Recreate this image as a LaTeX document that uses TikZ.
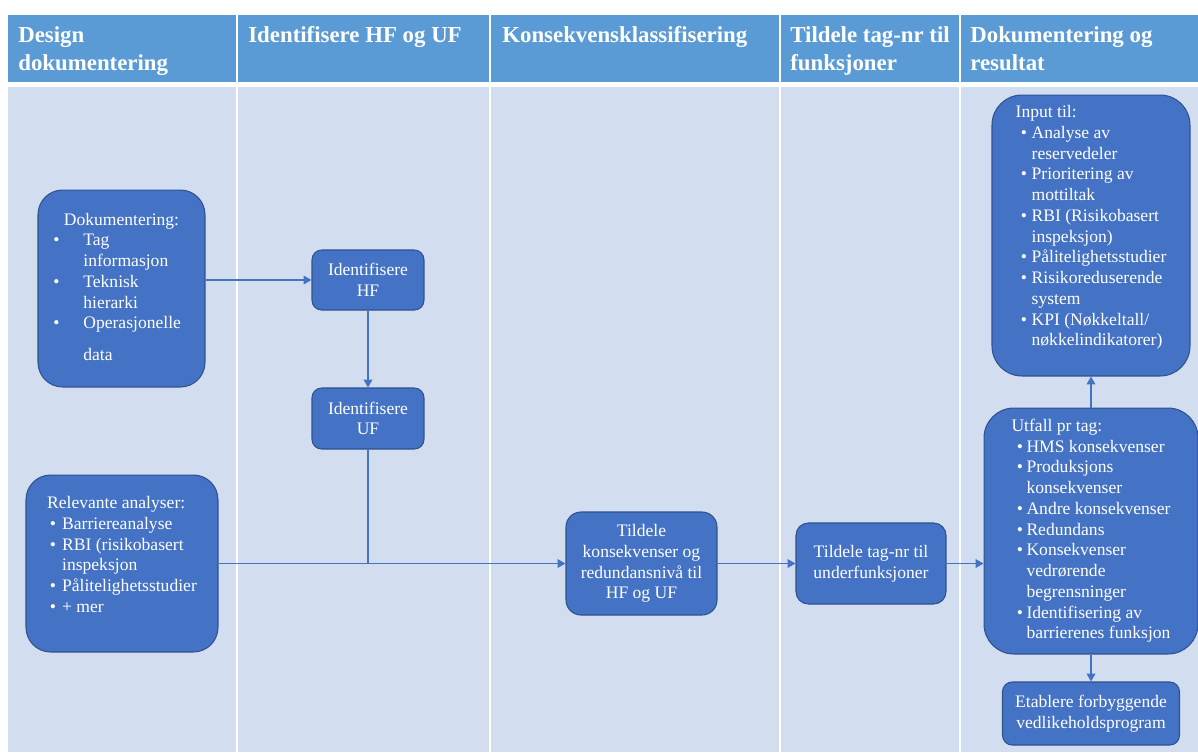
\documentclass[tikz,border=0pt]{standalone}
\usepackage{fontspec}
\setmainfont{Liberation Serif}
\usepackage{array}
\usetikzlibrary{arrows.meta, calc}

\definecolor{hdrblue}{HTML}{5B9BD5}
\definecolor{lanefill}{HTML}{D2DEEF}
\definecolor{boxblue}{HTML}{4472C4}
\definecolor{boxedge}{HTML}{2F528F}
\definecolor{linkblue}{HTML}{4472C4}

\begin{document}
\begin{tikzpicture}[
  x=0.02cm, y=-0.02cm,
  >={Triangle[length=4.5pt,width=5pt]},
  every node/.style={font=\fontsize{10}{11.8}\selectfont},
  hdrtext/.style={anchor=north west, inner sep=0pt, align=left, text=white,
                  font=\fontsize{13}{16}\selectfont\bfseries},
  flowbox/.style={draw=boxedge, fill=boxblue, text=white, line width=0.6pt,
                  rounded corners=5.5pt, align=center, inner sep=2pt},
  listbox/.style={flowbox, rounded corners=14pt},
  link/.style={draw=linkblue, line width=0.6pt}
]
\useasboundingbox (0,0) rectangle (1198,752);

% ---- Lanes ----
\foreach \xa/\xb in {8/236, 238/489, 491/779, 781/959, 961/1198} {
  \fill[hdrblue] (\xa,15) rectangle (\xb,82);
  \fill[lanefill] (\xa,87) rectangle (\xb,752);
}

% ---- Lane titles ----
\node[hdrtext] (hdesign) at (18,26) {Design\\dokumentering};
\node[hdrtext] (hident) at (248,26) {Identifisere HF og UF};
\node[hdrtext] (hkons) at (502,26) {Konsekvensklassifisering};
\node[hdrtext] (htag) at (790,26) {Tildele tag-nr til\\funksjoner};
\node[hdrtext] (hres) at (970,26) {Dokumentering og\\resultat};

% ---- Input boxes ----
\node[listbox, minimum width=3.34cm, minimum height=3.94cm] (dok) at (121.5,288.5)
  {\begin{tabular}{@{}p{0.6cm}@{}l@{}}
   \multicolumn{2}{c}{Dokumentering:}\\
   \textbullet & Tag\\
               & informasjon\\
   \textbullet & Teknisk\\
               & hierarki\\
   \textbullet & Operasjonelle\\[6pt]
               & data
   \end{tabular}};

\node[listbox, minimum width=3.84cm, minimum height=3.54cm] (relan) at (122,563.5)
  {\begin{tabular}{@{}p{0.3cm}@{}l@{}}
   \multicolumn{2}{@{}l@{}}{Relevante analyser:}\\
   \hspace{1.5pt}\textbullet & Barriereanalyse\\
   \hspace{1.5pt}\textbullet & RBI (risikobasert\\
                             & inspeksjon\\
   \hspace{1.5pt}\textbullet & Pålitelighetsstudier\\
   \hspace{1.5pt}\textbullet & + mer\\[8pt]
   \end{tabular}};

% ---- HF / UF ----
\node[flowbox, minimum width=2.24cm, minimum height=1.2cm] (idhf) at (368,280)
  {Identifisere\\HF};
\node[flowbox, minimum width=2.24cm, minimum height=1.22cm] (iduf) at (368,418.5)
  {Identifisere\\UF};

% ---- Classification and tagging ----
\node[flowbox, rounded corners=8.5pt, minimum width=3.02cm, minimum height=2.06cm]
  (tildkons) at (641.5,563.5)
  {Tildele\\konsekvenser og\\redundansnivå til\\HF og UF};
\node[flowbox, rounded corners=7pt, minimum width=3.0cm, minimum height=1.62cm]
  (tildtag) at (871,563.5)
  {Tildele tag-nr til\\underfunksjoner};

% ---- Results ----
\node[listbox, rounded corners=17pt, minimum width=3.96cm, minimum height=5.62cm]
  (input) at (1091,235.5)
  {\begin{tabular}{@{}p{0.32cm}@{}l@{}}
   \multicolumn{2}{@{}l@{}}{Input til:}\\
   \hspace{3pt}\textbullet & Analyse av\\
                           & reservedeler\\
   \hspace{3pt}\textbullet & Prioritering av\\
                           & mottiltak\\
   \hspace{3pt}\textbullet & RBI (Risikobasert\\
                           & inspeksjon)\\
   \hspace{3pt}\textbullet & Pålitelighetsstudier\\
   \hspace{3pt}\textbullet & Risikoreduserende\\
                           & system\\
   \hspace{3pt}\textbullet & KPI (Nøkkeltall/\\
                           & nøkkelindikatorer)\\[9pt]
   \end{tabular}};

\node[listbox, rounded corners=17pt, minimum width=4.28cm, minimum height=4.92cm]
  (utfall) at (1091,531)
  {\begin{tabular}{@{}p{0.3cm}@{}l@{}}
   \multicolumn{2}{@{}l@{}}{Utfall pr tag:}\\
   \hspace{3pt}\textbullet & HMS konsekvenser\\
   \hspace{3pt}\textbullet & Produksjons\\
                           & konsekvenser\\
   \hspace{3pt}\textbullet & Andre konsekvenser\\
   \hspace{3pt}\textbullet & Redundans\\
   \hspace{3pt}\textbullet & Konsekvenser\\
                           & vedrørende\\
                           & begrensninger\\
   \hspace{3pt}\textbullet & Identifisering av\\
                           & barrierenes funksjon
   \end{tabular}};

\node[flowbox, minimum width=3.54cm, minimum height=1.26cm] (etabl) at (1091,713.5)
  {Etablere forbyggende\\vedlikeholdsprogram};

% ---- Connectors ----
\draw[link,->] (dok.east |- idhf.west) -- (idhf.west);
\draw[link,->] (idhf) -- (iduf);
\coordinate (join) at (iduf.south |- relan.east);
\draw[link] (iduf) -- (join);
\draw[link,->] (relan.east) -- (relan.east -| tildkons.west);
\draw[link,->] (tildkons) -- (tildtag);
\draw[link,->] (tildtag.east) -- (tildtag.east -| utfall.west);
\draw[link,->] (utfall) -- (input);
\draw[link,->] (utfall) -- (etabl);

\end{tikzpicture}
\end{document}
